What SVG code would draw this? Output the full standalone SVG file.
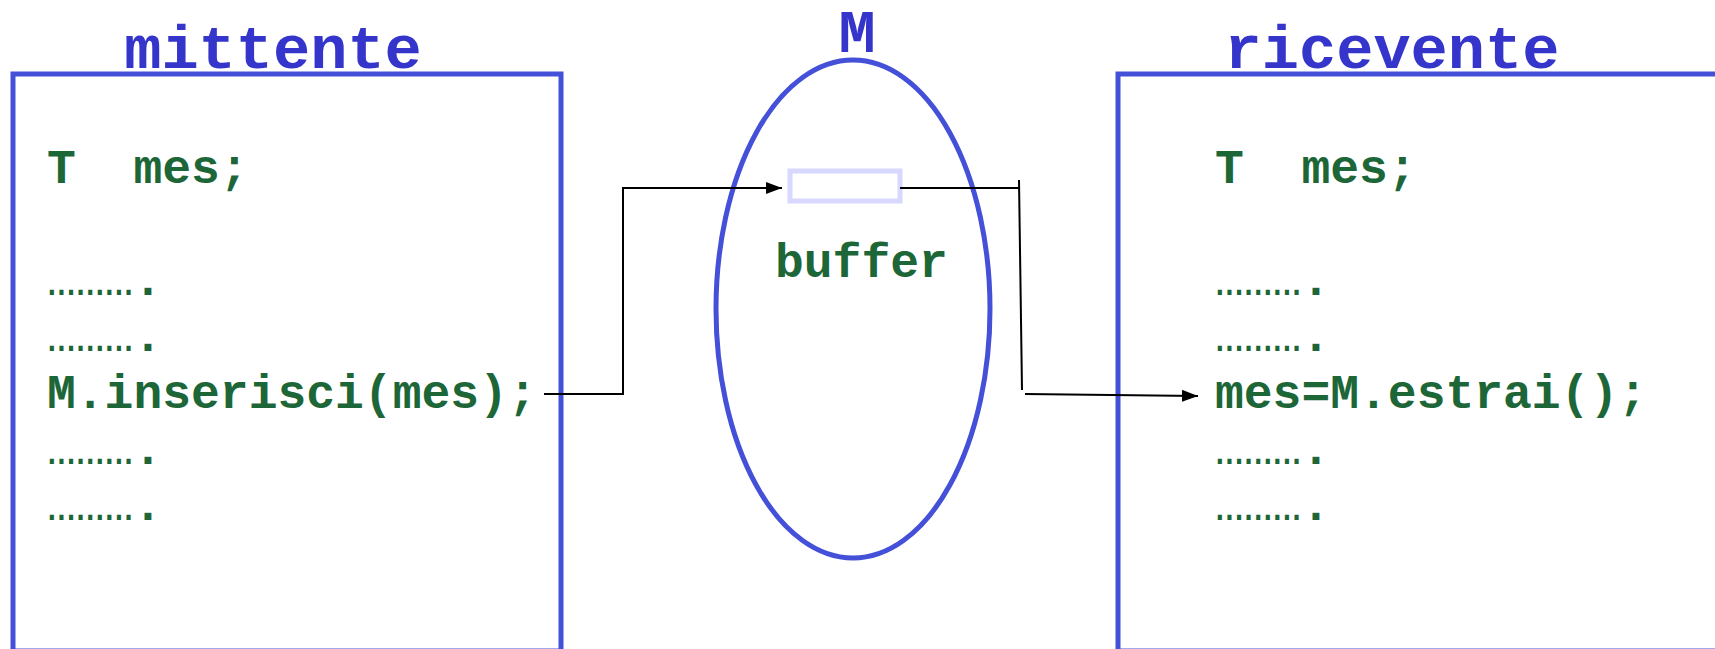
<svg xmlns="http://www.w3.org/2000/svg" width="1715" height="649" viewBox="0 0 1715 649">
  <defs>
    <marker id="head" viewBox="0 0 16 12" refX="16" refY="6" markerWidth="16" markerHeight="12" markerUnits="userSpaceOnUse" orient="auto">
      <path d="M0,0 L16,6 L0,12 Z" fill="#000"/>
    </marker>
    <style>
      .frame { fill: none; stroke: #4450d8; stroke-width: 5; }
      .title { font-family: "Liberation Mono", "Courier New", monospace; font-weight: bold; font-size: 62px; fill: #3535cc; }
      .code { font-family: "Liberation Mono", "Courier New", monospace; font-weight: bold; font-size: 48px; fill: #1d6638; }
      .ell { font-weight: normal; }
      .link { fill: none; stroke: #000; stroke-width: 2; }
    </style>
  </defs>
  <rect width="1715" height="649" fill="#fff"/>

  <!-- sender process -->
  <g id="mittente">
    <rect class="frame" x="13" y="74" width="548" height="577"/>
    <text class="title" x="273" y="68" text-anchor="middle">mittente</text>
    <text class="code" x="47" y="183" xml:space="preserve">T  mes;</text>
    <text class="code" x="47" y="295"><tspan class="ell">………</tspan>.</text>
    <text class="code" x="47" y="351"><tspan class="ell">………</tspan>.</text>
    <text class="code" x="47" y="408">M.inserisci(mes);</text>
    <text class="code" x="47" y="464"><tspan class="ell">………</tspan>.</text>
    <text class="code" x="47" y="520"><tspan class="ell">………</tspan>.</text>
  </g>

  <!-- shared mailbox M -->
  <g id="M">
    <ellipse class="frame" cx="853" cy="309" rx="137" ry="249"/>
    <text class="title" x="857" y="52" text-anchor="middle">M</text>
    <rect x="790" y="171" width="110" height="30" fill="#fff" stroke="#d8d8ff" stroke-width="5"/>
    <text class="code" x="775" y="277">buffer</text>
  </g>

  <!-- receiver process -->
  <g id="ricevente">
    <rect class="frame" x="1118" y="74" width="620" height="577"/>
    <text class="title" x="1392" y="68" text-anchor="middle">ricevente</text>
    <text class="code" x="1215" y="183" xml:space="preserve">T  mes;</text>
    <text class="code" x="1215" y="295"><tspan class="ell">………</tspan>.</text>
    <text class="code" x="1215" y="351"><tspan class="ell">………</tspan>.</text>
    <text class="code" x="1215" y="408">mes=M.estrai();</text>
    <text class="code" x="1215" y="464"><tspan class="ell">………</tspan>.</text>
    <text class="code" x="1215" y="520"><tspan class="ell">………</tspan>.</text>
  </g>

  <!-- message flow -->
  <g id="connectors">
    <polyline class="link" points="544,394 623,394 623,188 782,188" marker-end="url(#head)"/>
    <polyline class="link" points="900,188 1019,188"/>
    <line class="link" x1="1019" y1="180" x2="1022" y2="390"/>
    <line class="link" x1="1025" y1="394" x2="1198" y2="396" marker-end="url(#head)"/>
  </g>
</svg>
